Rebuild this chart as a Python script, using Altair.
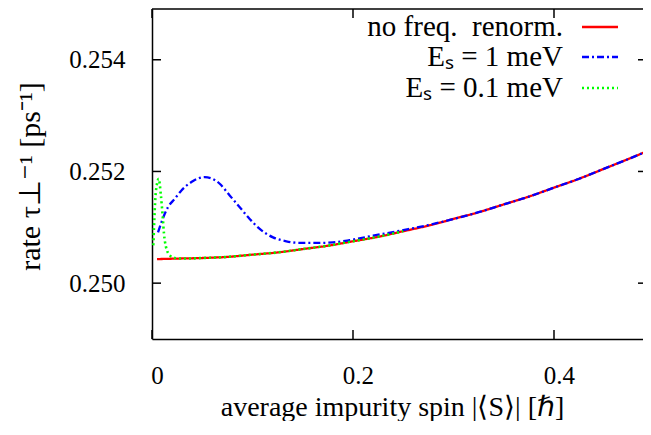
import altair as alt
import pandas as pd

# ---- data ----
red_x = [0.005, 0.025, 0.05, 0.075, 0.1, 0.125, 0.15, 0.175, 0.2, 0.225, 0.25,
         0.275, 0.3, 0.325, 0.35, 0.375, 0.4, 0.425, 0.45, 0.475, 0.5]
red_y = [0.25043, 0.25044, 0.25045, 0.25047, 0.25051, 0.25055, 0.25061, 0.25067,
         0.25075, 0.25083, 0.25093, 0.25103, 0.25115, 0.25127, 0.25141, 0.25155,
         0.25171, 0.25187, 0.25205, 0.25223, 0.25242]

blue_x = [0.006, 0.0094, 0.0159, 0.0226, 0.0293, 0.0392, 0.0524, 0.06, 0.0674, 0.0773,
          0.0873, 0.0972, 0.1072, 0.1204, 0.1337, 0.147, 0.1636, 0.18, 0.1967,
          0.22, 0.25, 0.275, 0.3, 0.325, 0.35, 0.375, 0.4, 0.425, 0.45, 0.475, 0.5]
blue_y = [0.25091, 0.25109, 0.25136, 0.25151, 0.25166, 0.25181, 0.25190, 0.25187, 0.25178,
          0.25157, 0.25136, 0.25115, 0.25097, 0.25082, 0.25075, 0.25072, 0.25072,
          0.25073, 0.25077, 0.25085, 0.25095, 0.25104, 0.25115, 0.25127, 0.25141,
          0.25155, 0.25171, 0.25187, 0.25205, 0.25223, 0.25242]

green_x = [0.0012, 0.0014, 0.002, 0.0027, 0.0034, 0.0047, 0.0067, 0.0087, 0.0107,
           0.0119, 0.0139, 0.0176, 0.0226, 0.03, 0.05, 0.075, 0.1, 0.125, 0.15,
           0.175, 0.2, 0.225, 0.25]
green_y = [0.25068, 0.25071, 0.25100, 0.25130, 0.25154, 0.25175, 0.25187, 0.25160,
           0.25118, 0.25089, 0.25065, 0.25050, 0.25045, 0.25044, 0.25045, 0.25047,
           0.25051, 0.25055, 0.25061, 0.25067, 0.25075, 0.25083, 0.25093]

y_ticks = [0.250, 0.252, 0.254]
x_ticks = [0.0, 0.2, 0.4]
legend_labels = ["no freq.\u00a0 renorm.", "Eₛ = 1 meV", "Eₛ = 0.1 meV"]
colors = ["#ff0000", "#0000ff", "#00ff00"]
dashes = [[1, 0], [7, 3, 2, 3], [2, 3]]

# ---- layout ----
W, H = 491, 330
X_DOM = [0, 0.48856]
Y_DOM = [0.249, 0.254909]
FONT = "Liberation Serif"
FS_TICK = 25
FS_XTITLE = 28
FS_YTITLE = 30
FS_LEG = 29

xs = alt.Scale(domain=X_DOM, nice=False, zero=False)
ys = alt.Scale(domain=Y_DOM, nice=False, zero=False)

x_axis = alt.Axis(values=x_ticks, labelExpr="datum.value == 0 ? '0' : format(datum.value, '.1f')",
                  title="average impurity spin |⟨S⟩| [ℏ]", labelPadding=24, labelOffset=5,
                  labelFlush=False, titleFontSize=FS_XTITLE,
                  titleX=240, titleY=76, titleBaseline="alphabetic", titleAlign="center")
y_axis = alt.Axis(values=y_ticks, format=".3f", title="rate τ⊥⁻¹ [ps⁻¹]", labelPadding=27,
                  labelFlush=False, titleFontSize=FS_YTITLE,
                  titleX=-113, titleY=167, titleBaseline="alphabetic", titleAngle=270,
                  titleAlign="center")


def curve(xv, yv, color, dash, width):
    df = pd.DataFrame({"x": xv, "y": yv})
    return alt.Chart(df).mark_line(
        color=color, strokeDash=dash, strokeWidth=width, clip=True, interpolate="monotone"
    ).encode(
        x=alt.X("x:Q", scale=xs, axis=x_axis),
        y=alt.Y("y:Q", scale=ys, axis=y_axis),
    )


red = curve(red_x, red_y, colors[0], dashes[0], 2.3)
blue = curve(blue_x, blue_y, colors[1], dashes[1], 2.3)
green = curve(green_x, green_y, colors[2], dashes[2], 2.6)

ydf = pd.DataFrame({"v": y_ticks})
xdf = pd.DataFrame({"v": x_ticks})
one = pd.DataFrame({"t": [""]})

tick_style = dict(color="black", strokeWidth=1.5)
left_ticks = alt.Chart(ydf).mark_rule(**tick_style).encode(
    y=alt.Y("v:Q", scale=ys, axis=y_axis), x=alt.value(0), x2=alt.value(9))
right_ticks = alt.Chart(ydf).mark_rule(**tick_style).encode(
    y=alt.Y("v:Q", scale=ys, axis=y_axis), x=alt.value(W - 5), x2=alt.value(W))
bottom_ticks = alt.Chart(xdf).mark_rule(**tick_style).encode(
    x=alt.X("v:Q", scale=xs, axis=x_axis), y=alt.value(H - 9), y2=alt.value(H))
top_ticks = alt.Chart(xdf).mark_rule(**tick_style).encode(
    x=alt.X("v:Q", scale=xs, axis=x_axis), y=alt.value(0), y2=alt.value(9))
top_border = alt.Chart(one).mark_rule(**tick_style).encode(
    x=alt.value(0), x2=alt.value(W), y=alt.value(0))

legend_layers = []
legend_rows_y = [18, 48, 79]
for lab, col, dsh, ly in zip(legend_labels, colors, dashes, legend_rows_y):
    ldf = pd.DataFrame({"t": [lab]})
    legend_layers.append(
        alt.Chart(ldf).mark_text(align="right", baseline="middle", font=FONT,
                                 fontSize=FS_LEG, color="black").encode(
            x=alt.value(411), y=alt.value(ly), text="t:N"))
    legend_layers.append(
        alt.Chart(ldf).mark_rule(color=col, strokeDash=dsh, strokeWidth=2.3).encode(
            x=alt.value(430), x2=alt.value(466), y=alt.value(ly)))

chart = alt.layer(
    red, blue, green, left_ticks, right_ticks, bottom_ticks, top_ticks, top_border,
    *legend_layers
).properties(
    width=W, height=H,
    background="white",
    autosize=alt.AutoSizeParams(type="none"),
    padding={"left": 144, "top": 1, "right": 0, "bottom": 82},
).configure_view(stroke=None).configure_axis(
    labelFont=FONT, labelFontSize=FS_TICK, labelColor="black",
    titleFont=FONT, titleFontWeight="normal", titleColor="black",
    domainColor="black", domainWidth=1.5, grid=False, ticks=False, tickSize=0,
)

chart.save("out.html", embed_options={"renderer": "svg", "actions": False})
